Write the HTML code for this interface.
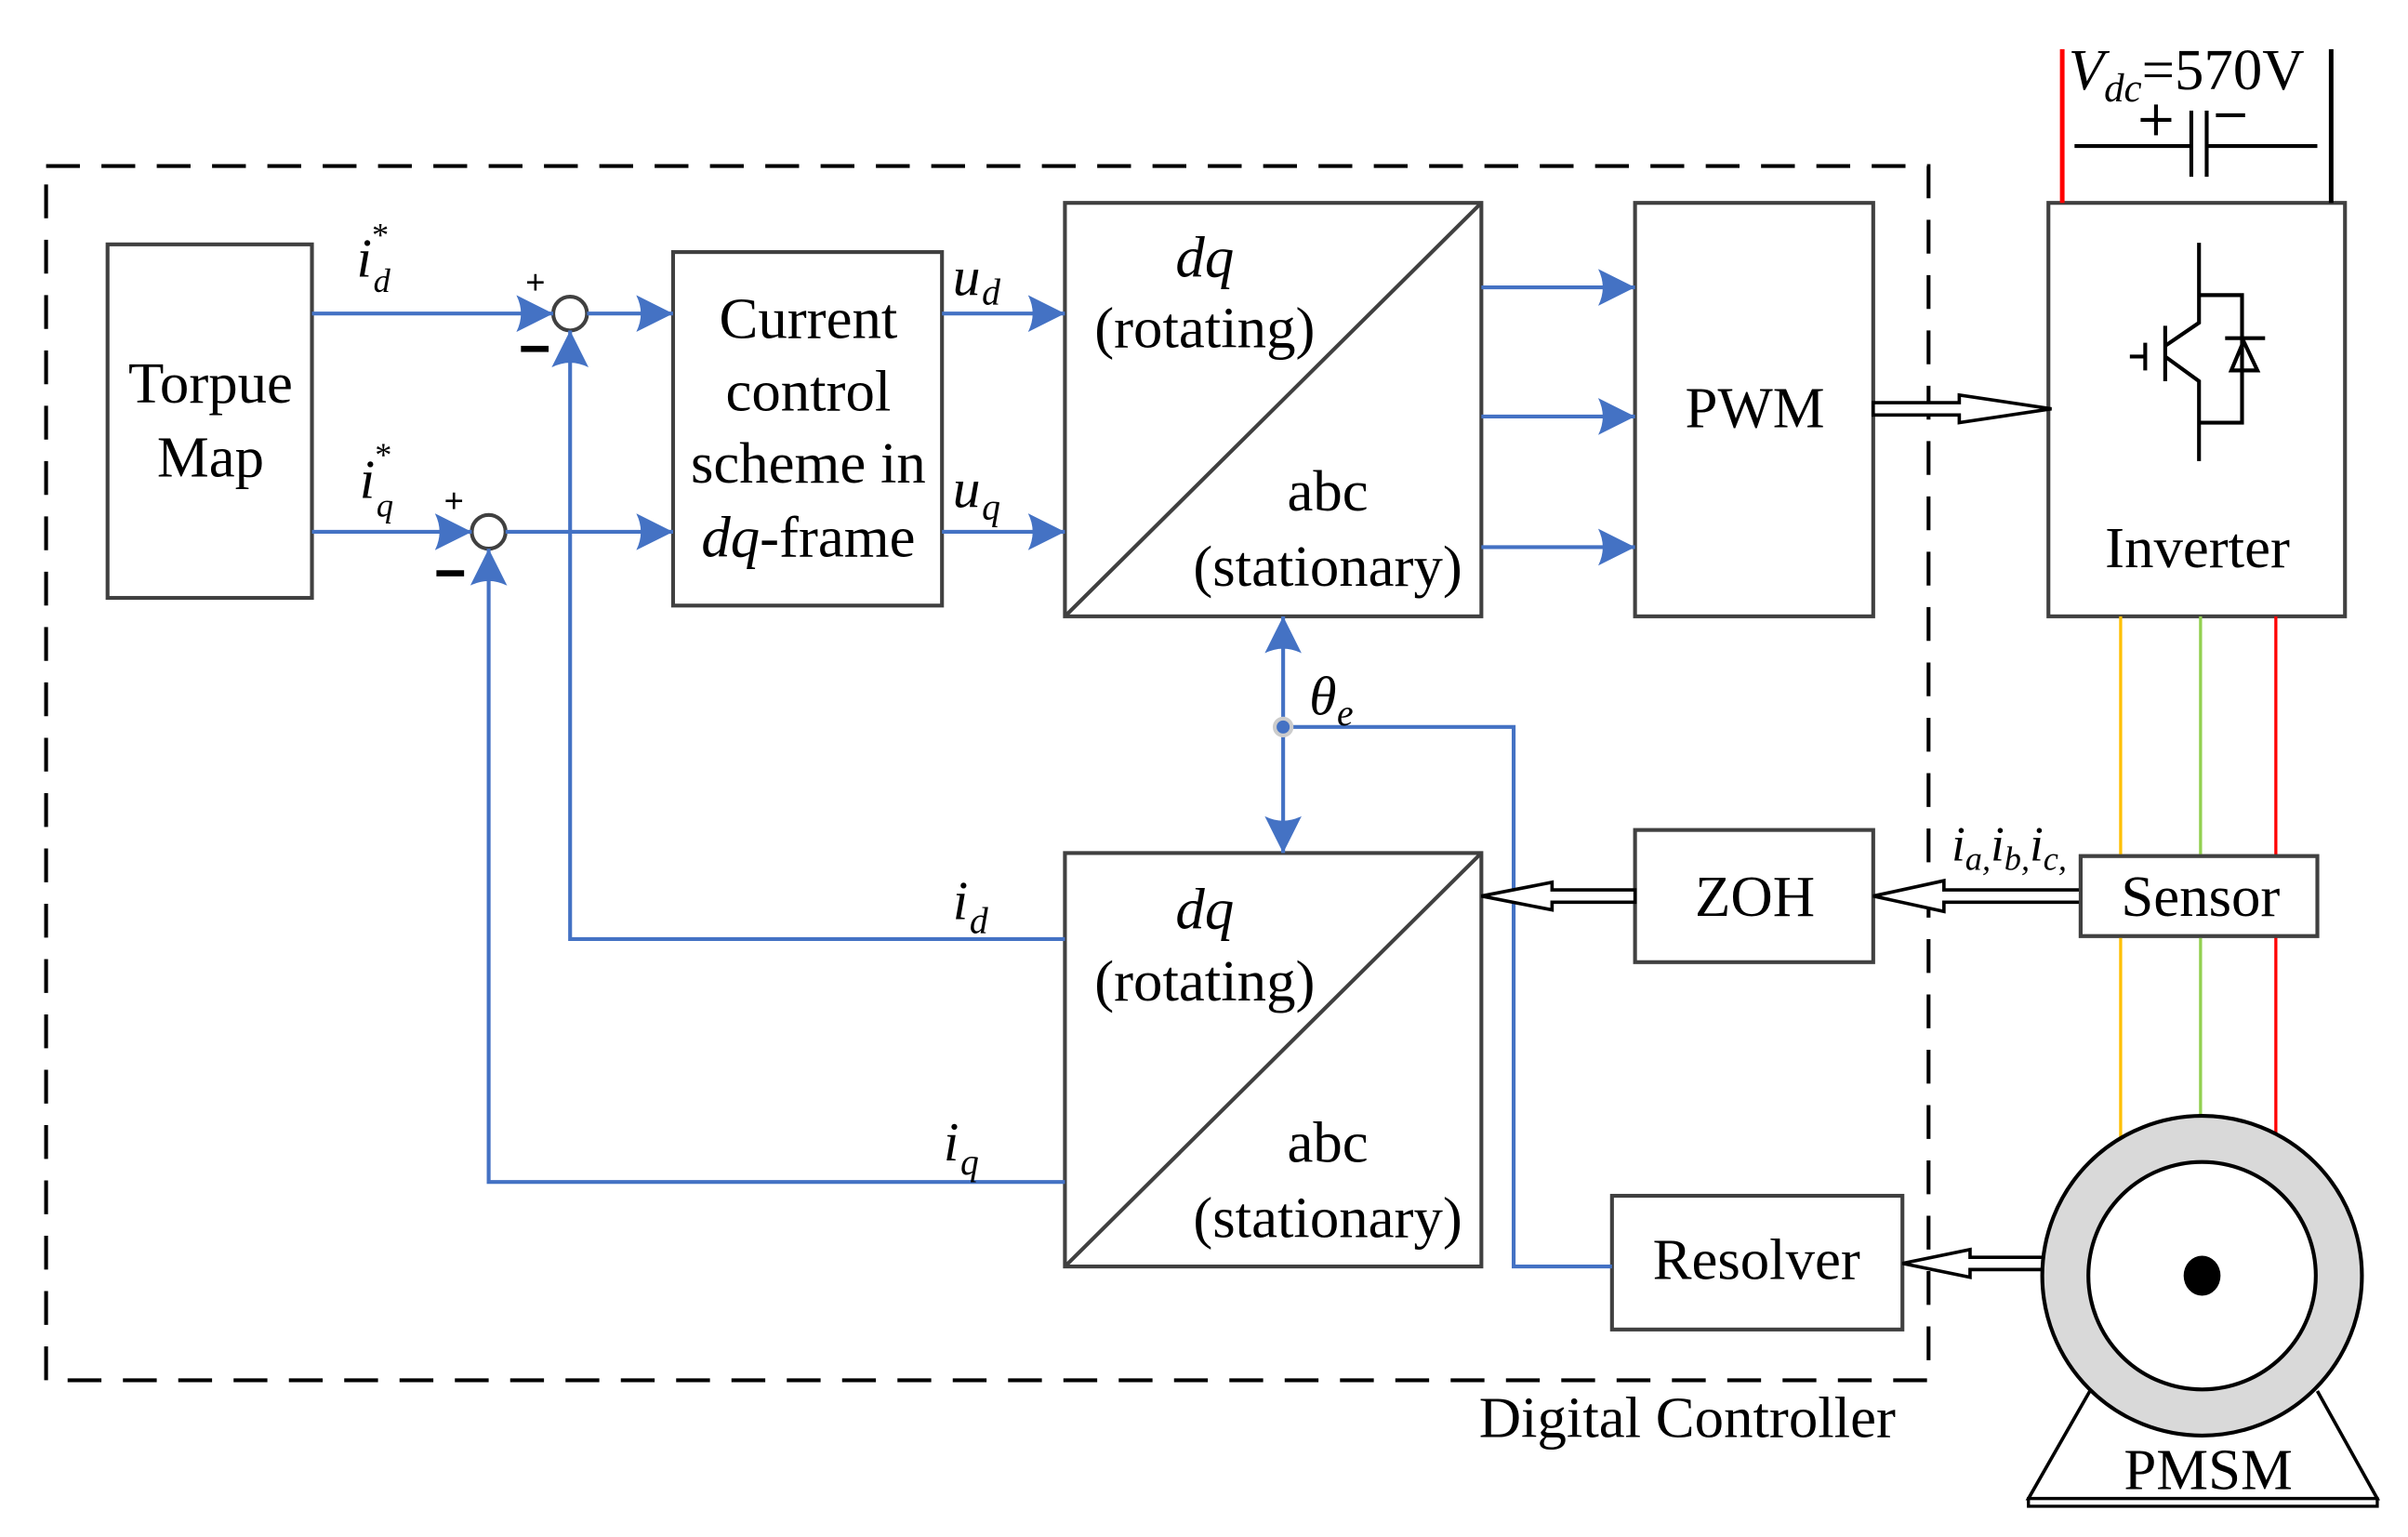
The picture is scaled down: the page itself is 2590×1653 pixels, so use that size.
<!DOCTYPE html>
<html><head><meta charset="utf-8"><style>html,body{margin:0;padding:0;background:#fff}svg{display:block}</style></head><body>
<svg width="2590" height="1653" viewBox="0 0 1567 1000" preserveAspectRatio="none" xmlns="http://www.w3.org/2000/svg" font-family="'Liberation Serif', serif">
<defs>
<marker id="a" viewBox="0 0 20 20" refX="20" refY="10" markerWidth="24" markerHeight="24" markerUnits="userSpaceOnUse" orient="auto"><path d="M0,0 L20,10 L0,20 Q5,10 0,0Z" fill="#4472c4"/></marker>
</defs>
<rect x="30" y="108" width="1225" height="790" fill="none" stroke="#000" stroke-width="2.5" stroke-dasharray="22,14"/>
<g fill="none" stroke="#404040" stroke-width="2.5">
<rect x="70" y="159" width="133" height="230"/>
<rect x="438" y="164" width="175" height="230"/>
<rect x="693" y="132" width="271" height="269"/>
<line x1="693" y1="401" x2="964" y2="132"/>
<rect x="693" y="555" width="271" height="269"/>
<line x1="693" y1="824" x2="964" y2="555"/>
<rect x="1064" y="132" width="155" height="269"/>
<rect x="1333" y="132" width="193" height="269"/>
<rect x="1064" y="540" width="155" height="86"/>
<rect x="1354" y="557" width="154" height="52"/>
<rect x="1049" y="778" width="189" height="87"/>
<circle cx="371" cy="204" r="11"/>
<circle cx="318" cy="346" r="11"/>
</g>
<g stroke="#4472c4" stroke-width="2.5" fill="none">
<line x1="203" y1="204" x2="360" y2="204" marker-end="url(#a)"/>
<line x1="382" y1="204" x2="438" y2="204" marker-end="url(#a)"/>
<line x1="203" y1="346" x2="307" y2="346" marker-end="url(#a)"/>
<line x1="329" y1="346" x2="438" y2="346" marker-end="url(#a)"/>
<polyline points="693,611 371,611 371,215" marker-end="url(#a)"/>
<polyline points="693,769 318,769 318,357" marker-end="url(#a)"/>
<line x1="613" y1="204" x2="693" y2="204" marker-end="url(#a)"/>
<line x1="613" y1="346" x2="693" y2="346" marker-end="url(#a)"/>
<line x1="964" y1="187" x2="1064" y2="187" marker-end="url(#a)"/>
<line x1="964" y1="271" x2="1064" y2="271" marker-end="url(#a)"/>
<line x1="964" y1="356" x2="1064" y2="356" marker-end="url(#a)"/>
<line x1="835" y1="473" x2="835" y2="401" marker-end="url(#a)"/>
<line x1="835" y1="473" x2="835" y2="555" marker-end="url(#a)"/>
<polyline points="835,473 985,473 985,824 1049,824"/>
</g>
<circle cx="835" cy="473" r="5.5" fill="#4472c4" stroke="#ccc" stroke-width="2.5"/>
<!-- hollow arrows -->
<g fill="#fff" stroke="#000" stroke-width="2.2">
<path d="M1219,262 L1275,262 L1275,257 L1335,266 L1275,275 L1275,270 L1219,270Z"/>
<path d="M1064,579 L1010,579 L1010,574 L964,583 L1010,592 L1010,587 L1064,587Z"/>
<path d="M1354,579 L1265,579 L1265,573 L1219,583 L1265,593 L1265,587 L1354,587Z"/>
<path d="M1330,818 L1282,818 L1282,813 L1238,822 L1282,831 L1282,826 L1330,826Z"/>
</g>
<!-- DC source -->
<line x1="1342" y1="32" x2="1342" y2="132" stroke="#f00" stroke-width="3"/>
<line x1="1517" y1="32" x2="1517" y2="132" stroke="#000" stroke-width="3"/>
<g stroke="#000" stroke-width="2.5">
<line x1="1350" y1="95" x2="1426" y2="95"/><line x1="1426" y1="72" x2="1426" y2="115"/>
<line x1="1436" y1="72" x2="1436" y2="115"/><line x1="1436" y1="95" x2="1508" y2="95"/>
<line x1="1393" y1="78" x2="1413" y2="78"/><line x1="1403" y1="68" x2="1403" y2="88"/>
<line x1="1442" y1="75" x2="1461" y2="75"/>
</g>
<!-- IGBT -->
<g stroke="#000" stroke-width="2.5" fill="none">
<polyline points="1431,158 1431,210 1409,225"/>
<polyline points="1431,192 1459,192 1459,275 1431,275"/>
<polyline points="1431,258 1431,300"/>
<line x1="1409" y1="212" x2="1409" y2="248"/>
<polyline points="1409,232 1431,248 1431,258"/>
<line x1="1386" y1="232" x2="1396" y2="232"/><line x1="1396" y1="223" x2="1396" y2="241"/>
<line x1="1448" y1="220" x2="1474" y2="220"/>
<path d="M1452,241 L1469,241 L1460,222Z"/>
</g>
<!-- phase lines -->
<line x1="1380" y1="401" x2="1380" y2="742" stroke="#ffc000" stroke-width="2"/>
<line x1="1432" y1="401" x2="1432" y2="728" stroke="#92d050" stroke-width="2"/>
<line x1="1481" y1="401" x2="1481" y2="738" stroke="#f00" stroke-width="2"/>
<rect x="1354" y="557" width="154" height="52" fill="#fff" stroke="#404040" stroke-width="2.5"/>
<!-- motor -->
<path d="M1360,905 L1320,975 L1547,975 L1508,905" fill="#fff" stroke="#000" stroke-width="2.2"/>
<rect x="1320" y="975" width="227" height="5" fill="#fff" stroke="#000" stroke-width="2"/>
<circle cx="1433" cy="830" r="104" fill="#d9d9d9" stroke="#000" stroke-width="2.5"/>
<circle cx="1433" cy="830" r="74" fill="#fff" stroke="#000" stroke-width="2.5"/>
<ellipse cx="1433" cy="830" rx="12" ry="13" fill="#000"/>
<!-- text -->
<g font-size="38" fill="#000" text-anchor="middle">
<text x="137" y="262">Torpue</text><text x="137" y="310">Map</text>
<text x="526" y="220">Current</text><text x="526" y="267">control</text>
<text x="526" y="314">scheme in</text>
<text x="526" y="362"><tspan font-style="italic">dq</tspan>-frame</text>
<text x="784" y="180" font-style="italic">dq</text>
<text x="784" y="226">(rotating)</text>
<text x="864" y="332">abc</text><text x="864" y="381">(stationary)</text>
<text x="784" y="604" font-style="italic">dq</text>
<text x="784" y="651">(rotating)</text>
<text x="864" y="756">abc</text><text x="864" y="805">(stationary)</text>
<text x="1142" y="278">PWM</text>
<text x="1430" y="369">Inverter</text>
<text x="1142" y="596">ZOH</text>
<text x="1432" y="596">Sensor</text>
<text x="1143" y="832">Resolver</text>
<text x="1437" y="969">PMSM</text>
<text x="1098" y="935">Digital Controller</text>
</g>
<g fill="#000" font-style="italic">
<text x="232" y="180" font-size="36">i</text><text x="243" y="190" font-size="22">d</text><text x="242" y="160" font-size="22" font-style="normal">*</text>
<text x="234" y="324" font-size="36">i</text><text x="245" y="336" font-size="22">q</text><text x="244" y="303" font-size="22" font-style="normal">*</text>
<text x="620" y="192" font-size="36">u</text><text x="639" y="198" font-size="24">d</text>
<text x="620" y="330" font-size="36">u</text><text x="639" y="338" font-size="24">q</text>
<text x="852" y="465" font-size="36">θ</text><text x="870" y="472" font-size="24">e</text>
<text x="620" y="598" font-size="36">i</text><text x="631" y="607" font-size="24">d</text>
<text x="614" y="755" font-size="36">i</text><text x="625" y="764" font-size="24">q</text>
<text x="1270" y="560" font-size="32">i<tspan font-size="22" dy="6">a,</tspan><tspan dy="-6">i</tspan><tspan font-size="22" dy="6">b,</tspan><tspan dy="-6">i</tspan><tspan font-size="22" dy="6">c,</tspan></text>
<text x="1346" y="58" font-size="38">V<tspan font-size="26" dy="8">dc</tspan><tspan font-style="normal" dy="-8">=570V</tspan></text>
</g>
<g fill="#000" font-family="'Liberation Sans', sans-serif" font-size="22">
<text x="342" y="191">+</text><text x="289" y="333">+</text>
</g>
<rect x="339" y="225" width="18" height="4" fill="#000"/>
<rect x="284" y="371" width="18" height="4" fill="#000"/>
</svg>
</body></html>
